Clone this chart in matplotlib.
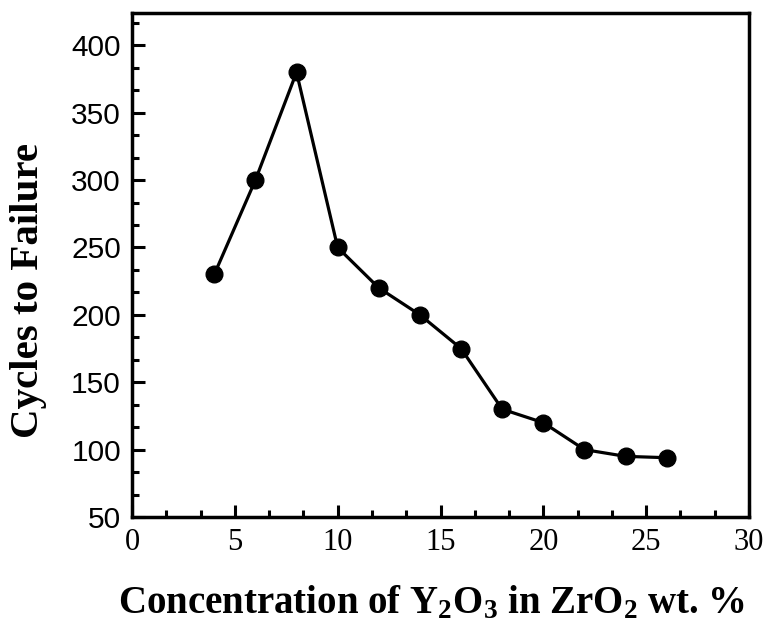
import matplotlib
matplotlib.use("Agg")
import matplotlib.pyplot as plt
from matplotlib.ticker import MultipleLocator, AutoMinorLocator

conc = [4, 6, 8, 10, 12, 14, 16, 18, 20, 22, 24, 26]
cycles = [230, 300, 380, 250, 220, 200, 175, 130, 120, 100, 95, 94]

plt.rcParams['mathtext.fontset'] = 'custom'
plt.rcParams['mathtext.rm'] = 'Liberation Serif'
plt.rcParams['mathtext.bf'] = 'Liberation Serif:bold'
plt.rcParams['mathtext.it'] = 'Liberation Serif:italic'

fig = plt.figure(figsize=(7.68, 6.30), dpi=100)
ax = fig.add_axes([132/768, 1-517/630, (749-132)/768, (517-13)/630])

ax.plot(conc, cycles, color='black', lw=2.3, marker='o', ms=12)

ax.set_xlim(0, 30)
ax.set_ylim(50, 424)
ax.xaxis.set_major_locator(MultipleLocator(5))
ax.yaxis.set_major_locator(MultipleLocator(50))
ax.xaxis.set_minor_locator(AutoMinorLocator(3))
ax.yaxis.set_minor_locator(AutoMinorLocator(3))
ax.tick_params(which='both', direction='in', top=False, right=False, width=2.2)
ax.tick_params(which='major', length=9)
ax.tick_params(which='minor', length=5)
ax.tick_params(axis='y', pad=8)
ax.tick_params(axis='x', pad=8)
for s in ax.spines.values():
    s.set_linewidth(2.5)

for lab in ax.get_xticklabels():
    lab.set_fontfamily('Liberation Serif')
    lab.set_fontsize(22)
for lab in ax.get_yticklabels():
    lab.set_fontfamily('Liberation Sans')
    lab.set_fontsize(21.5)

ax.set_xlabel(r'Concentration of Y$_\mathbf{2}$O$_\mathbf{3}$ in ZrO$_\mathbf{2}$ wt. %',
              fontfamily='Liberation Serif', fontweight='bold', fontsize=28)
ax.xaxis.set_label_coords(0.486, -0.135)
ax.xaxis.label.set_va('top')
ax.set_ylabel('Cycles to Failure', fontfamily='Liberation Serif', fontweight='bold',
              fontsize=29.5)
ax.yaxis.set_label_coords(-0.137, 0.45)

fig.savefig('out.png', dpi=100)
